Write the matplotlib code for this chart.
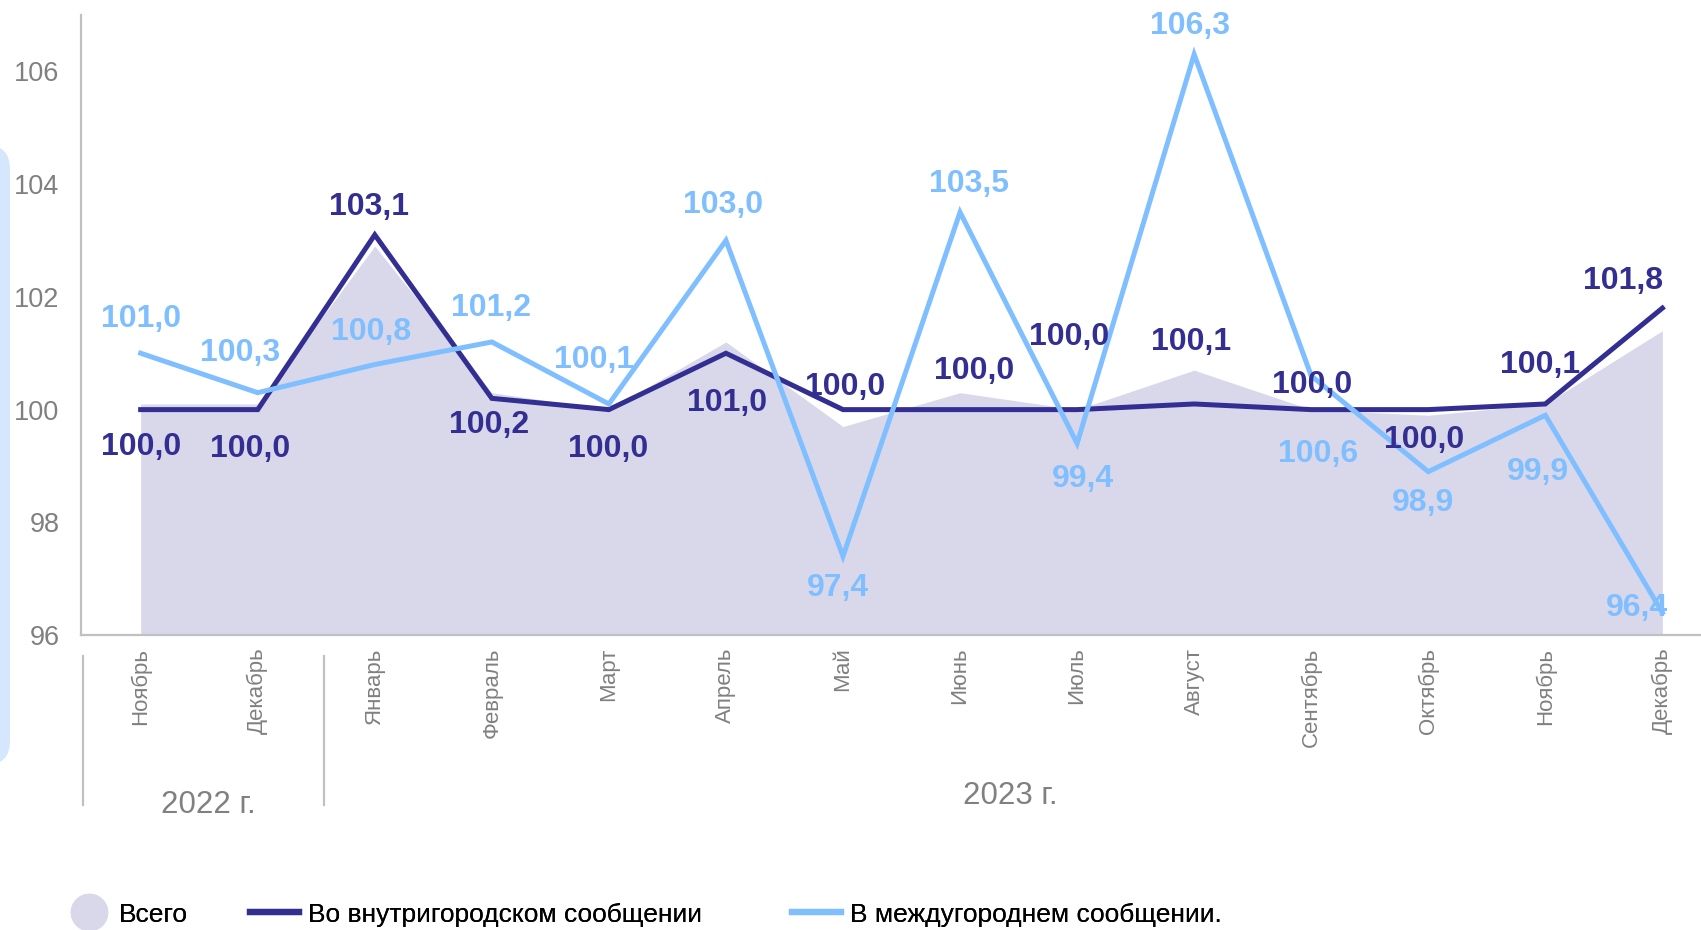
import matplotlib
matplotlib.use("Agg")
import matplotlib.pyplot as plt
from matplotlib.lines import Line2D
from matplotlib.patches import FancyBboxPatch
from matplotlib.transforms import IdentityTransform, blended_transform_factory

plt.rcParams['font.family'] = ['Liberation Sans', 'DejaVu Sans']

months = ["Ноябрь", "Декабрь", "Январь", "Февраль", "Март", "Апрель", "Май",
          "Июнь", "Июль", "Август", "Сентябрь", "Октябрь", "Ноябрь", "Декабрь"]
years = ["2022 г.", "2023 г."]
total = [100.1, 100.1, 102.9, 100.3, 100.0, 101.2, 99.7,
         100.3, 100.0, 100.7, 100.0, 99.9, 100.1, 101.4]
intracity = [100.0, 100.0, 103.1, 100.2, 100.0, 101.0, 100.0,
             100.0, 100.0, 100.1, 100.0, 100.0, 100.1, 101.8]
intercity = [101.0, 100.3, 100.8, 101.2, 100.1, 103.0, 97.4,
             103.5, 99.4, 106.3, 100.6, 98.9, 99.9, 96.4]
yticks = [96, 98, 100, 102, 104, 106]
legend_labels = ["Всего", "Во внутригородском сообщении", "В междугороднем сообщении."]

C_AREA = "#d9d8ea"
C_DARK = "#332e91"
C_LIGHT = "#80bfff"
C_GRAY = "#808080"
C_AXIS = "#c0c0c0"

# label offsets (in reference px, converted to points)
dark_off = [(0, 32), (-7, 34), (-5, -28), (-3, 23), (-1, 34), (1, 44), (2, -23),
            (13, -38), (-7, -69), (-3, -59), (1, -25), (-4, 26), (-5, -38), (-36, -27)]
light_off = [(0, -34), (-16, -39), (-3, -32), (-1, -33), (-14, -43), (-3, -35), (-5, 27),
             (8, -28), (5, 31), (-4, -28), (6, 70), (-5, 27), (-7, 50), (-23, -6)]
K = (1701 / 1568) * 72 / 100
DY_SHIFT = 2

fig = plt.figure(figsize=(17.01, 9.30), dpi=100)
ax = fig.add_axes([0.0476, 0.317, 0.9524, 0.667])

x = list(range(len(months)))
ax.fill_between(x, 96, total, color=C_AREA, lw=0, zorder=1)
ax.plot(x, intracity, color=C_DARK, lw=3.6, zorder=3, solid_joinstyle='miter')
ax.plot(x, intercity, color=C_LIGHT, lw=3.6, zorder=4, solid_joinstyle='miter')

def fmt(v):
    return f"{v:.1f}".replace(".", ",")

for i, v in enumerate(intracity):
    dx, dy = dark_off[i]
    ax.annotate(fmt(v), (i, v), xytext=(dx * K, -(dy + DY_SHIFT) * K), textcoords='offset points',
                ha='center', va='center', color=C_DARK, fontsize=23, fontweight='bold', zorder=6)
for i, v in enumerate(intercity):
    dx, dy = light_off[i]
    ax.annotate(fmt(v), (i, v), xytext=(dx * K, -(dy + DY_SHIFT) * K), textcoords='offset points',
                ha='center', va='center', color=C_LIGHT, fontsize=23, fontweight='bold', zorder=6)

ax.set_ylim(96, 107)
ax.set_xlim(-0.51, 13.33)
ax.set_yticks(yticks)
ax.set_yticklabels([str(t) for t in yticks], color=C_GRAY, fontsize=19.5)
ax.set_xticks(x)
ax.set_xticklabels(months, rotation=90, color=C_GRAY, fontsize=16, va='top')
ax.tick_params(axis='both', length=0)
ax.tick_params(axis='y', pad=15.5)
ax.tick_params(axis='x', pad=9)
for s in ['top', 'right']:
    ax.spines[s].set_visible(False)
for s in ['left', 'bottom']:
    ax.spines[s].set_color(C_AXIS)
    ax.spines[s].set_linewidth(1.6)

# year separators and labels
tr = blended_transform_factory(ax.transData, ax.transAxes)
for xs in [-0.49, 1.57]:
    ax.plot([xs, xs], [-0.034, -0.274], transform=tr, color=C_AXIS, lw=1.6, clip_on=False)
ax.text(0.58, -0.274, years[0], transform=tr, ha='center', va='center', color=C_GRAY, fontsize=22.5)
ax.text(7.43, -0.260, years[1], transform=tr, ha='center', va='center', color=C_GRAY, fontsize=22.5)

# left decorative rounded bar
bar = FancyBboxPatch((-40, 930 - 765), 50, 620, boxstyle='round,pad=0,rounding_size=24',
                     transform=IdentityTransform(), color="#d4e7fc", lw=0)
fig.patches.append(bar)

handles = [Line2D([], [], marker='o', ls='none', markersize=26, markerfacecolor=C_AREA,
                  markeredgecolor=C_AREA),
           Line2D([], [], color=C_DARK, lw=4.5),
           Line2D([], [], color=C_LIGHT, lw=4.5)]
leg_x = [0.040, 0.147, 0.4656]
hlen = [1.6, 1.85, 1.85]
for h, lab, lx, hl in zip(handles, legend_labels, leg_x, hlen):
    leg = fig.legend([h], [lab], loc='center left', bbox_to_anchor=(lx, 0.0165),
                     frameon=False, fontsize=19, handlelength=hl, handletextpad=0.34,
                     borderpad=0, borderaxespad=0)
    fig.add_artist(leg)

fig.savefig("out.png", dpi=100)
